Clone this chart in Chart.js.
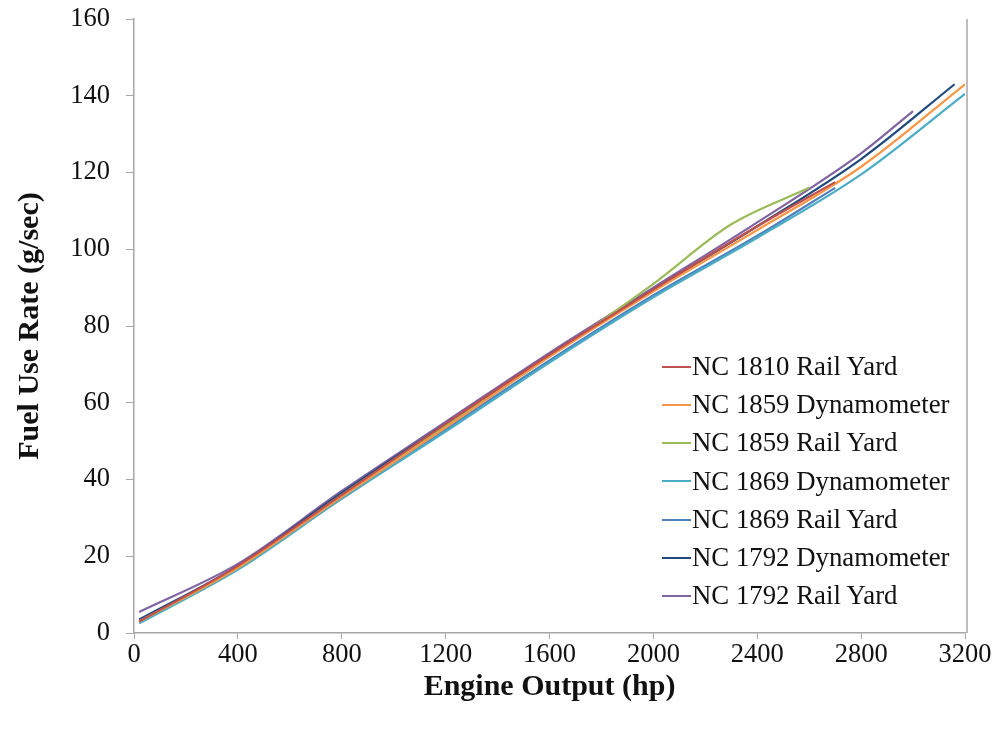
<!DOCTYPE html>
<html>
<head>
<meta charset="utf-8">
<script src="https://cdn.jsdelivr.net/npm/chart.js@4/dist/chart.umd.min.js"></script>
<style>
  body { margin: 0; background: #fff; }
  #wrap { position: relative; width: 1003px; height: 733px; }
  #lineChart { display: block; }
  #legend { position: absolute; left: 662px; top: 347px; font-family: "Liberation Serif", "Times New Roman", serif; font-size: 26.8px; color: #111; }
  #legend div { height: 38.2px; line-height: 38px; white-space: nowrap; }
  #legend span { display: inline-block; width: 29px; height: 2px; vertical-align: middle; margin-right: 1px; position: relative; top: -2px; }
</style>
</head>
<body>
<div id="wrap">
  <canvas id="lineChart" width="1003" height="733"></canvas>
  <div id="legend"></div>
</div>
<script>
// series names
var names = ['NC 1810 Rail Yard', 'NC 1859 Dynamometer', 'NC 1859 Rail Yard', 'NC 1869 Dynamometer',
             'NC 1869 Rail Yard', 'NC 1792 Dynamometer', 'NC 1792 Rail Yard'];
var colors = ['#C0504D', '#F79646', '#9BBB59', '#4BACC6', '#4F81BD', '#1F497D', '#8064A2'];

// engine output (hp) and fuel use rate (g/sec)
var hp1810ry  = [20, 400, 800, 1200, 1600, 2000, 2400, 2700];
var fuel1810ry = [3, 17.5, 36, 54.5, 72.5, 89.5, 106, 117.5];
var hp1859dyn  = [20, 400, 800, 1200, 1600, 2000, 2400, 2800, 3200];
var fuel1859dyn = [3, 17, 35.5, 53.5, 72, 89, 105, 121.5, 143];
var hp1859ry  = [20, 400, 800, 1200, 1600, 2000, 2300, 2600];
var fuel1859ry = [3, 17, 36, 54, 72, 91, 106.5, 116];
var hp1869dyn  = [20, 400, 800, 1200, 1600, 2000, 2400, 2800, 3200];
var fuel1869dyn = [2.5, 16.5, 35, 52.5, 70.5, 87.5, 103, 119.5, 140.5];
var hp1869ry  = [20, 400, 800, 1200, 1600, 2000, 2400, 2700];
var fuel1869ry = [3, 17, 35, 53, 71, 88, 103.5, 116];
var hp1792dyn  = [20, 400, 800, 1200, 1600, 2000, 2400, 2800, 3160];
var fuel1792dyn = [3.5, 17.5, 36.5, 54.5, 72.5, 89.5, 106, 123.5, 143];
var hp1792ry  = [20, 400, 800, 1200, 1600, 2000, 2400, 2800, 3000];
var fuel1792ry = [5.5, 18, 37, 55, 73, 90, 107, 125, 136];

var hpSets = [hp1810ry, hp1859dyn, hp1859ry, hp1869dyn, hp1869ry, hp1792dyn, hp1792ry];
var fuelSets = [fuel1810ry, fuel1859dyn, fuel1859ry, fuel1869dyn, fuel1869ry, fuel1792dyn, fuel1792ry];

function pts(xs, ys) {
    return xs.map(function (x, i) { return { x: x, y: ys[i] }; });
}

var datasets = names.map(function (n, i) {
    return {
        label: n,
        data: pts(hpSets[i], fuelSets[i]),
        borderColor: colors[i],
        backgroundColor: colors[i],
        borderWidth: 2.2,
        pointRadius: 0,
        cubicInterpolationMode: 'monotone',
        fill: false
    };
});

var axisGray = '#a6a6a6';
var tickFont = { family: 'Liberation Serif', size: 26.5 };
var titleFont = { family: 'Liberation Serif', size: 30, weight: 'bold' };
function plain(v) { return String(v); }

// right border of the plot area
var rightBorder = {
    id: 'rightBorder',
    afterDraw: function (chart) {
        var a = chart.chartArea, c = chart.ctx;
        c.save();
        c.strokeStyle = axisGray;
        c.lineWidth = 1.5;
        c.beginPath();
        c.moveTo(a.right + 2, a.top);
        c.lineTo(a.right + 2, a.bottom);
        c.stroke();
        c.restore();
    }
};

var ctx = document.getElementById('lineChart').getContext('2d');
var myChart = new Chart(ctx, {
    type: 'line',
    data: { datasets: datasets },
    options: {
        responsive: false,
        animation: false,
        layout: { padding: { left: 12, right: 38, top: 19, bottom: 28 } },
        plugins: { legend: { display: false }, tooltip: { enabled: false } },
        scales: {
            x: {
                type: 'linear',
                min: 0, max: 3200,
                ticks: { stepSize: 400, color: '#111', font: tickFont, padding: 0, maxRotation: 0, callback: plain },
                grid: { drawOnChartArea: false, color: axisGray, tickLength: 6 },
                border: { color: axisGray, width: 1.5 },
                title: { display: true, text: 'Engine Output (hp)', color: '#111', font: titleFont, padding: 0 },
                afterFit: function (s) { s.height = 72; s.paddingLeft = 0; s.paddingRight = 0; }
            },
            y: {
                min: 0, max: 160,
                ticks: { stepSize: 20, color: '#111', font: tickFont, padding: 16, callback: plain },
                grid: { drawOnChartArea: false, color: axisGray, tickLength: 8 },
                border: { color: axisGray, width: 1.5 },
                title: { display: true, text: 'Fuel Use Rate (g/sec)', color: '#111', font: titleFont, padding: 0 },
                afterFit: function (s) { s.width = 122; s.paddingTop = 0; s.paddingBottom = 0; }
            }
        }
    },
    plugins: [rightBorder]
});

var lg = document.getElementById('legend');
names.forEach(function (n, i) {
    var d = document.createElement('div');
    var s = document.createElement('span');
    s.style.background = colors[i];
    d.appendChild(s);
    d.appendChild(document.createTextNode(n));
    lg.appendChild(d);
});
</script>
</body>
</html>
